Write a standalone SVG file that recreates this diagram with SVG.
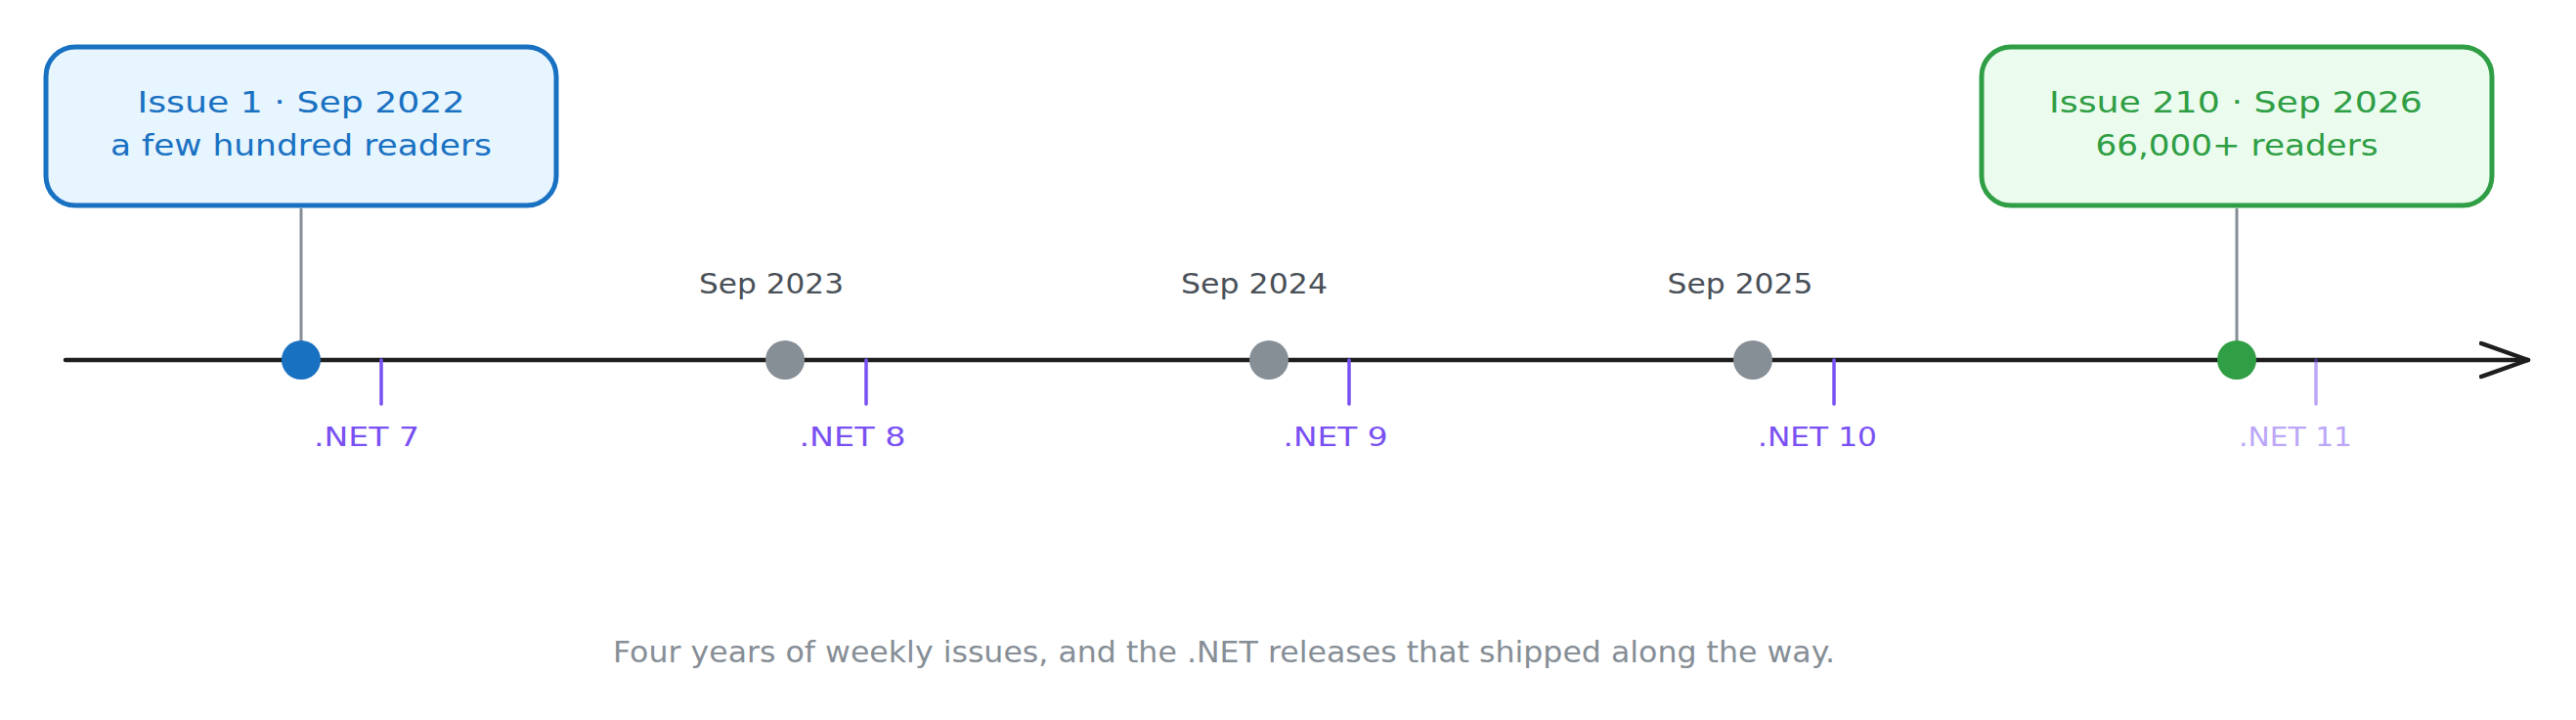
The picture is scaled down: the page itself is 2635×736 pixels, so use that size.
<svg xmlns="http://www.w3.org/2000/svg" width="2635" height="736" viewBox="0 0 2635 736">
<style>
  text { font-family: "DejaVu Sans", "Liberation Sans", sans-serif; }
  .box1 { fill: #e7f5ff; stroke: #1971c2; stroke-width: 5; }
  .box2 { fill: #ebfbee; stroke: #2f9e44; stroke-width: 5; }
  .t1 { fill: #1971c2; font-size: 30px; text-anchor: middle; }
  .t2 { fill: #2f9e44; font-size: 30px; text-anchor: middle; }
  .year { fill: #495057; font-size: 28px; text-anchor: middle; }
  .net { fill: #7950f2; font-size: 26.5px; text-anchor: middle; }
  .tick { stroke: #7950f2; stroke-width: 3.5; stroke-linecap: round; }
  .stem { stroke: #868e96; stroke-width: 3; stroke-linecap: round; }
  .axis { stroke: #1e1e1e; stroke-width: 4.5; stroke-linecap: round; fill: none; }
  .dot-gray { fill: #868e96; }
  .caption { fill: #868e96; font-size: 30px; text-anchor: middle; }
</style>
<defs>
  <marker id="chev" markerUnits="userSpaceOnUse" markerWidth="60" markerHeight="50" refX="50" refY="20" orient="auto">
    <path d="M2,3 L50,20 L2,37" fill="none" stroke="#1e1e1e" stroke-width="4.5" stroke-linecap="round" stroke-linejoin="round"/>
  </marker>
</defs>
<rect width="2635" height="736" fill="#ffffff"/>

<g id="connectors">
  <line id="timeline" class="axis" x1="67" y1="368" x2="2586" y2="368" marker-end="url(#chev)"/>
  <line class="stem" x1="308" y1="214" x2="308" y2="350"/>
  <line class="stem" x1="2288" y1="214" x2="2288" y2="350"/>
</g>

<g id="issue1">
  <rect class="box1" x="47" y="48" width="522" height="162" rx="30" ry="30"/>
  <text class="t1" x="308" y="115" textLength="335" lengthAdjust="spacingAndGlyphs">Issue 1 · Sep 2022</text>
  <text class="t1" x="308" y="159" textLength="390" lengthAdjust="spacingAndGlyphs">a few hundred readers</text>
  <circle cx="308" cy="368" r="20" fill="#1971c2"/>
</g>

<g id="issue210">
  <rect class="box2" x="2027" y="48" width="522" height="162" rx="30" ry="30"/>
  <text class="t2" x="2287" y="115" textLength="382" lengthAdjust="spacingAndGlyphs">Issue 210 · Sep 2026</text>
  <text class="t2" x="2288" y="159" textLength="289" lengthAdjust="spacingAndGlyphs">66,000+ readers</text>
  <circle cx="2288" cy="368" r="20" fill="#2f9e44"/>
</g>

<g id="sep2023">
  <circle class="dot-gray" cx="803" cy="368" r="20"/>
  <text class="year" x="789" y="300" textLength="148" lengthAdjust="spacingAndGlyphs">Sep 2023</text>
</g>
<g id="sep2024">
  <circle class="dot-gray" cx="1298" cy="368" r="20"/>
  <text class="year" x="1283" y="300" textLength="150" lengthAdjust="spacingAndGlyphs">Sep 2024</text>
</g>
<g id="sep2025">
  <circle class="dot-gray" cx="1793" cy="368" r="20"/>
  <text class="year" x="1780" y="300" textLength="149" lengthAdjust="spacingAndGlyphs">Sep 2025</text>
</g>

<g id="net7">
  <line class="tick" x1="390" y1="368" x2="390" y2="413"/>
  <text class="net" x="375" y="456" textLength="108" lengthAdjust="spacingAndGlyphs">.NET 7</text>
</g>
<g id="net8">
  <line class="tick" x1="886" y1="368" x2="886" y2="413"/>
  <text class="net" x="872" y="456" textLength="109" lengthAdjust="spacingAndGlyphs">.NET 8</text>
</g>
<g id="net9">
  <line class="tick" x1="1380" y1="368" x2="1380" y2="413"/>
  <text class="net" x="1366" y="456" textLength="107" lengthAdjust="spacingAndGlyphs">.NET 9</text>
</g>
<g id="net10">
  <line class="tick" x1="1876" y1="368" x2="1876" y2="413"/>
  <text class="net" x="1859" y="456" textLength="122" lengthAdjust="spacingAndGlyphs">.NET 10</text>
</g>
<g id="net11" opacity="0.5">
  <line class="tick" x1="2369" y1="368" x2="2369" y2="413"/>
  <text class="net" x="2348" y="456" textLength="116" lengthAdjust="spacingAndGlyphs">.NET 11</text>
</g>

<g id="caption">
  <text class="caption" x="1252" y="677" textLength="1250" lengthAdjust="spacingAndGlyphs">Four years of weekly issues, and the .NET releases that shipped along the way.</text>
</g>
</svg>
